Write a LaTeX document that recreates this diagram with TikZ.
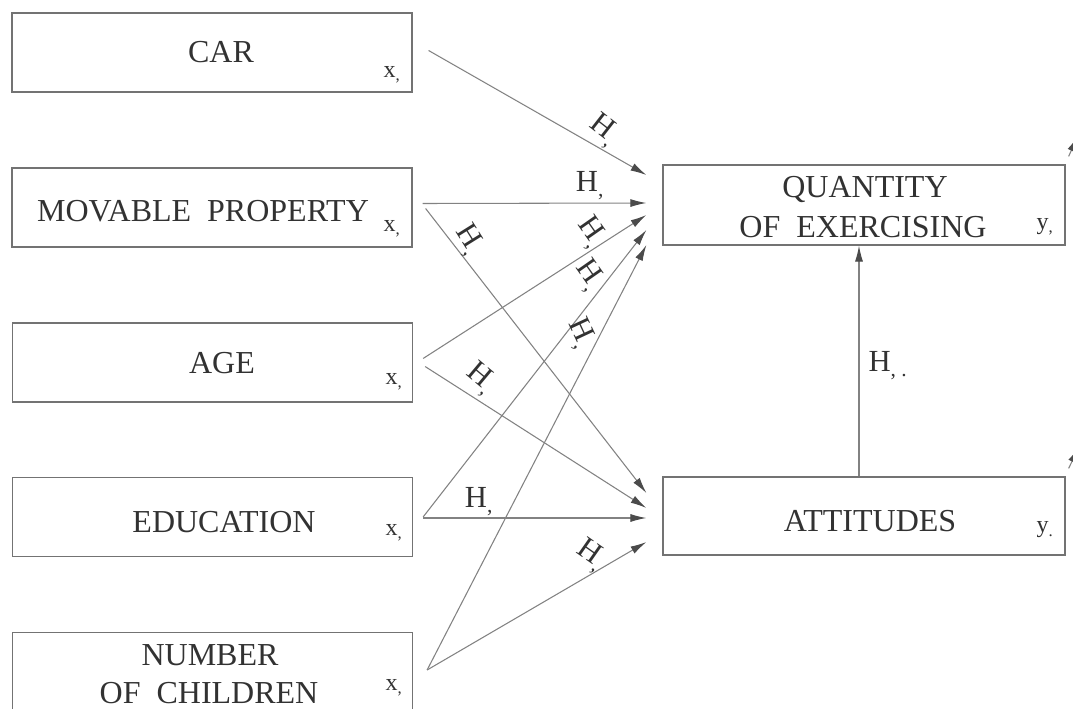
\documentclass[tikz,border=0pt]{standalone}
\usepackage{fontspec}
\setmainfont{Liberation Serif}
\usetikzlibrary{arrows.meta,calc}
\definecolor{ink}{RGB}{50,50,50}
\definecolor{ln}{RGB}{130,130,130}
\definecolor{bx}{RGB}{115,115,115}
\definecolor{tipc}{RGB}{75,75,75}
\begin{document}
\begin{tikzpicture}[x=0.75pt,y=-0.75pt,
  lbox/.style={draw=bx,line width=0.9pt,inner sep=0pt,minimum width=300pt,minimum height=59.25pt},
  rbox/.style={draw=bx,line width=0.9pt,inner sep=0pt,minimum width=301.5pt,minimum height=59pt},
  btxt/.style={text=ink,inner sep=0pt,font=\fontsize{24}{27}\selectfont},
  sub/.style={text=ink,inner sep=0pt,font=\fontsize{18}{20}\selectfont},
  hlab/.style={text=ink,inner sep=0pt,font=\fontsize{23}{26}\selectfont},
  arr/.style={draw=ln,line width=0.8pt,-{Latex[length=12pt,width=6pt,color=tipc]}}
]
\path[use as bounding box] (0,0) rectangle (1073,709);
\clip (0,0) rectangle (1073,709);

% left boxes
\node[lbox] (car) at (212,52.5) {};
\node[lbox] (mov) at (212,207.5) {};
\node[lbox] (age) at (212.5,362.5) {};
\node[lbox] (edu) at (212.5,517) {};
\node[lbox] (num) at (212.5,672) {};
% right boxes
\node[rbox,minimum height=60pt] (q) at (864,205) {};
\node[rbox,minimum height=58.5pt] (att) at (864,516) {};

% texts
\node[btxt] (tcar) at (221,52) {CAR};
\node[btxt] (tmov) at (203,211) {MOVABLE\ \ PROPERTY};
\node[btxt] (tage) at (222,363) {AGE};
\node[btxt] (tedu) at (224,522) {EDUCATION};
\node[btxt] (tnum1) at (210,655) {NUMBER};
\node[btxt] (tnum2) at (209,693) {OF\ \ CHILDREN};
\node[btxt] (tq1) at (865,190) {QUANTITY};
\node[btxt] (tq2) at (863,227) {OF\ \ EXERCISING};
\node[btxt] (tatt) at (870,521) {ATTITUDES};

% subscripts
\node[sub] (xcar) at (392,75) {x\textsubscript{,}};
\node[sub] (xmov) at (392,229) {x\textsubscript{,}};
\node[sub] (xage) at (394,382) {x\textsubscript{,}};
\node[sub] (xedu) at (394,533) {x\textsubscript{,}};
\node[sub] (xnum) at (394,688) {x\textsubscript{,}};
\node[sub] (yq) at (1045,227) {y\textsubscript{,}};
\node[sub] (yatt) at (1045,530) {y\textsubscript{.}};

% arrows into QUANTITY
\draw[arr] ($(car.east)+(16,-2)$) -- ($(q.west)+(-16,-30)$);
\draw[arr] ($(mov.east)+(10,-4)$) -- ($(q.west)+(-16,-2)$);
\draw[arr] ($(age.east)+(10,-4)$) -- ($(q.west)+(-16,10)$);
\draw[arr] ($(edu.east)+(10,0)$) -- ($(q.west)+(-16,25)$);
\draw[arr] ($(num.east)+(14,-2)$) -- ($(q.west)+(-16,40)$);
% arrows into ATTITUDES
\draw[arr] ($(mov.east)+(13,1)$) -- ($(att.west)+(-16,-23)$);
\draw[arr] ($(age.east)+(12,4)$) -- ($(att.west)+(-16,-8)$);
\draw[arr] ($(edu.east)+(10,1)$) -- ($(att.west)+(-16,2)$);
\draw[arr] ($(num.east)+(14,-2)$) -- ($(att.west)+(-16,26)$);
% ATTITUDES -> QUANTITY
\draw[arr] ($(att.north)+(-5,0)$) -- ($(q.south)+(-5,0)$);
% cut-off arrows at the right edge
\coordinate (qo) at (1078,136);
\coordinate (ao) at (1079,447);
\draw[arr] ($(q.north east)+(3,-8)$) -- (qo);
\draw[arr] ($(att.north east)+(3,-8)$) -- (ao);

% labels
\node[hlab,rotate=-38] (h1) at (603,131) {H\textsubscript{,}};
\node[hlab] (h2) at (590,186) {H\textsubscript{,}};
\node[hlab,rotate=-58] (h3) at (468,240) {H\textsubscript{,}};
\node[hlab,rotate=-55] (h4) at (590,233) {H\textsubscript{,}};
\node[hlab,rotate=-55] (h5) at (588,276) {H\textsubscript{,}};
\node[hlab,rotate=-65] (h6) at (580,334) {H\textsubscript{,}};
\node[hlab,rotate=-40] (h7) at (480,379) {H\textsubscript{,}};
\node[hlab] (h8) at (479,502) {H\textsubscript{,}};
\node[hlab,rotate=-35] (h9) at (590,556) {H\textsubscript{,}};
\node[hlab] (h10) at (888,366) {H\textsubscript{, .}};
\end{tikzpicture}
\end{document}
